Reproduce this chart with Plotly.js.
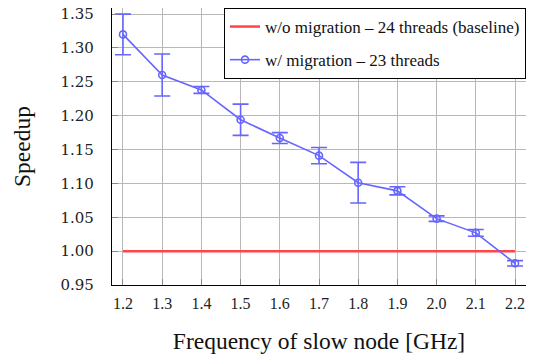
<!DOCTYPE html>
<html>
<head>
<meta charset="utf-8">
<script src="https://cdn.plot.ly/plotly-3.0.1.min.js"></script>
<style>
html,body{margin:0;padding:0;background:#fff}
#chart{width:534px;height:354px}
</style>
</head>
<body>
<div id="chart"></div>
<script>
const frequencies = [1.2, 1.3, 1.4, 1.5, 1.6, 1.7, 1.8, 1.9, 2.0, 2.1, 2.2];
const speedupMigration = [1.320, 1.260, 1.238, 1.194, 1.167, 1.141, 1.101, 1.089, 1.048, 1.027, 0.982];
const speedupError = [0.030, 0.031, 0.005, 0.023, 0.008, 0.012, 0.030, 0.006, 0.004, 0.005, 0.004];
const baseline = [1.0, 1.0, 1.0, 1.0, 1.0, 1.0, 1.0, 1.0, 1.0, 1.0, 1.0];
const yTicks = [0.95, 1.00, 1.05, 1.10, 1.15, 1.20, 1.25, 1.30, 1.35];

const blue = '#6666ff';
const red = '#ff4545';
const serif = "'Liberation Serif', 'Times New Roman', serif";

const traces = [
  {
    x: frequencies, y: baseline, type: 'scatter', mode: 'lines',
    name: 'w/o migration – 24 threads (baseline)', legendgroup: 'a',
    line: {color: red, width: 2.5}
  },
  {
    x: frequencies, y: speedupMigration, type: 'scatter', mode: 'lines+markers',
    name: 'w/ migration – 23 threads', legendgroup: 'b',
    line: {color: blue, width: 1.6},
    marker: {symbol: 'circle-open', size: 7, color: blue, line: {width: 1.6, color: blue}},
    error_y: {type: 'data', array: speedupError, visible: true, color: blue, thickness: 1.6, width: 8}
  }
];

const layout = {
  width: 534, height: 354,
  margin: {l: 112, r: 8, t: 8, b: 69},
  paper_bgcolor: '#fff', plot_bgcolor: '#fff',
  showlegend: true,
  legend: {
    x: 1, y: 1, xanchor: 'right', yanchor: 'top',
    bordercolor: '#000', borderwidth: 1, bgcolor: '#fff',
    font: {family: serif, size: 17, color: '#111'},
    traceorder: 'grouped', tracegroupgap: 8
  },
  xaxis: {
    range: [1.172, 2.228],
    tickvals: frequencies, tickformat: '.1f',
    showgrid: true, gridcolor: '#b8b8b8', gridwidth: 1,
    zeroline: false, showline: true, linecolor: '#000', linewidth: 1.2,
    ticks: 'inside', ticklen: 6, tickcolor: '#888',
    ticklabelstandoff: 4,
    tickfont: {family: serif, size: 16, color: '#222'},
    title: {text: 'Frequency of slow node [GHz]', font: {family: serif, size: 23.5, color: '#111'}, standoff: 22}
  },
  yaxis: {
    range: [0.95, 1.359],
    tickvals: yTicks, tickformat: '.2f',
    showgrid: true, gridcolor: '#b8b8b8', gridwidth: 1,
    zeroline: false, showline: true, linecolor: '#000', linewidth: 1.2,
    ticks: 'inside', ticklen: 6, tickcolor: '#888',
    ticklabelstandoff: 14,
    tickfont: {family: "'DejaVu Serif', serif", size: 15, color: '#222'},
    title: {text: 'Speedup', font: {family: serif, size: 23.5, color: '#111'}, standoff: 23}
  }
};

Plotly.newPlot('chart', traces, layout, {displayModeBar: false, staticPlot: true});
</script>
</body>
</html>
